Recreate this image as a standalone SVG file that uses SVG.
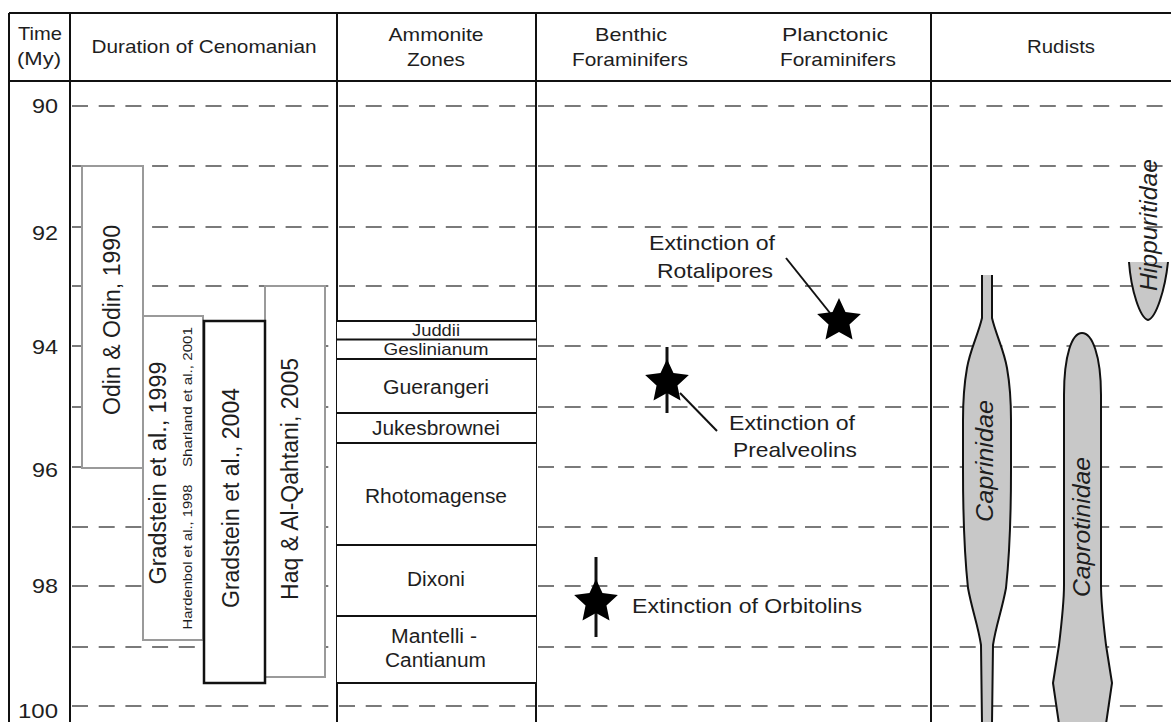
<svg xmlns="http://www.w3.org/2000/svg" xmlns:xlink="http://www.w3.org/1999/xlink" width="1171" height="722" viewBox="0 0 1171 722">
<style>
  text { font-family: "Liberation Sans", Arial, sans-serif; fill: #1e1e1e; }
  .hd { font-size: 19px; text-anchor: middle; }
  .num { font-size: 21px; text-anchor: end; }
  .zn { font-size: 19.5px; text-anchor: middle; }
  .lb { font-size: 21px; text-anchor: middle; }
  .rot { font-size: 23px; text-anchor: middle; }
  .small { font-size: 13px; text-anchor: middle; }
  .it { font-size: 24px; font-style: italic; text-anchor: middle; }
  .frame { stroke: #111; stroke-width: 2; fill: none; }
  .dash { stroke: #7a7a7a; stroke-width: 2; stroke-dasharray: 16 10.7; fill: none; }
  .gbox { fill: #fff; stroke: #9a9a9a; stroke-width: 2; }
  .kbox { fill: #fff; stroke: #111; stroke-width: 2.5; }
  .zline { stroke: #111; stroke-width: 2; }
  .rfill { fill: #c8c8c8; stroke: none; }
  .rline { fill: none; stroke: #111; stroke-width: 2; stroke-linejoin: round; }
  .conn { stroke: #111; stroke-width: 2; fill: none; }
  .bar { stroke: #111; stroke-width: 3; }
</style>
<defs>
  <path id="star" d="M0,-23 L6.47,-8.9 L21.87,-7.11 L10.46,3.4 L13.52,18.61 L0,11 L-13.52,18.61 L-10.46,3.4 L-21.87,-7.11 L-6.47,-8.9 Z" fill="#000"/>
</defs>
<rect x="0" y="0" width="1171" height="722" fill="#fff"/>

<g id="gridlines">
  <path class="dash" d="M72,106H337 M339,106H536 M538,106H931 M933,106H1171
  M72,166H337 M339,166H536 M538,166H931 M933,166H1171
  M72,227H337 M339,227H536 M538,227H931 M933,227H1171
  M72,286H337 M339,286H536 M538,286H931 M933,286H1171
  M72,346H337 M339,346H536 M538,346H931 M933,346H1171
  M72,407H337 M339,407H536 M538,407H931 M933,407H1171
  M72,467H337 M339,467H536 M538,467H931 M933,467H1171
  M72,527H337 M339,527H536 M538,527H931 M933,527H1171
  M72,586H337 M339,586H536 M538,586H931 M933,586H1171
  M72,647H337 M339,647H536 M538,647H931 M933,647H1171
  M72,706H337 M339,706H536 M538,706H931 M933,706H1171"/>
</g>

<g id="frame">
  <path class="frame" d="M9,13H1171 M9,81H1171 M9,13V722 M70,13V722 M337,13V722 M536,13V722 M931,13V722"/>
</g>

<g id="header">
  <text class="hd" x="40" y="40" textLength="44" lengthAdjust="spacingAndGlyphs">Time</text>
  <text class="hd" x="39" y="65" textLength="44" lengthAdjust="spacingAndGlyphs">(My)</text>
  <text class="hd" x="204" y="53" textLength="225" lengthAdjust="spacingAndGlyphs">Duration of Cenomanian</text>
  <text class="hd" x="436" y="41" textLength="95" lengthAdjust="spacingAndGlyphs">Ammonite</text>
  <text class="hd" x="436" y="66" textLength="58" lengthAdjust="spacingAndGlyphs">Zones</text>
  <text class="hd" x="631" y="41" textLength="72" lengthAdjust="spacingAndGlyphs">Benthic</text>
  <text class="hd" x="630" y="66" textLength="116" lengthAdjust="spacingAndGlyphs">Foraminifers</text>
  <text class="hd" x="835" y="41" textLength="106" lengthAdjust="spacingAndGlyphs">Planctonic</text>
  <text class="hd" x="838" y="66" textLength="116" lengthAdjust="spacingAndGlyphs">Foraminifers</text>
  <text class="hd" x="1061" y="53" textLength="68" lengthAdjust="spacingAndGlyphs">Rudists</text>
</g>

<g id="time-axis">
  <text class="num" x="58" y="113" textLength="26" lengthAdjust="spacingAndGlyphs">90</text>
  <text class="num" x="58" y="240" textLength="26" lengthAdjust="spacingAndGlyphs">92</text>
  <text class="num" x="58" y="354" textLength="26" lengthAdjust="spacingAndGlyphs">94</text>
  <text class="num" x="58" y="477" textLength="26" lengthAdjust="spacingAndGlyphs">96</text>
  <text class="num" x="58" y="593" textLength="26" lengthAdjust="spacingAndGlyphs">98</text>
  <text class="num" x="58" y="718" textLength="40" lengthAdjust="spacingAndGlyphs">100</text>
</g>

<g id="odin-1990">
  <rect class="gbox" x="82" y="166" width="61" height="302"/>
  <text class="rot" transform="translate(120,320) rotate(-90)" textLength="190" lengthAdjust="spacingAndGlyphs">Odin &amp; Odin, 1990</text>
</g>
<g id="gradstein-1999">
  <rect class="gbox" x="143" y="316" width="60" height="324"/>
  <text class="rot" transform="translate(166,473) rotate(-90)" textLength="223" lengthAdjust="spacingAndGlyphs">Gradstein et al., 1999</text>
  <text class="small" transform="translate(192,557) rotate(-90)" textLength="145" lengthAdjust="spacingAndGlyphs">Hardenbol et al., 1998</text>
  <text class="small" transform="translate(192,397) rotate(-90)" textLength="140" lengthAdjust="spacingAndGlyphs">Sharland et al., 2001</text>
</g>
<g id="haq-2005">
  <rect class="gbox" x="265" y="286" width="60" height="391"/>
  <text class="rot" transform="translate(298,479) rotate(-90)" textLength="242" lengthAdjust="spacingAndGlyphs">Haq &amp; Al-Qahtani, 2005</text>
</g>
<g id="gradstein-2004">
  <rect class="kbox" x="204" y="321" width="61" height="362"/>
  <text class="rot" transform="translate(239,498) rotate(-90)" textLength="220" lengthAdjust="spacingAndGlyphs">Gradstein et al., 2004</text>
</g>

<g id="ammonite-zones">
  <rect x="337" y="321" width="199" height="362" fill="#fff"/>
  <path class="zline" d="M337,321H536 M337,339.5H536 M337,359H536 M337,413H536 M337,443H536 M337,545H536 M337,616H536 M337,683H536"/>
  <text class="zn" style="font-size:17px" x="436" y="336" textLength="48" lengthAdjust="spacingAndGlyphs">Juddii</text>
  <text class="zn" style="font-size:17px" x="436" y="355" textLength="105" lengthAdjust="spacingAndGlyphs">Geslinianum</text>
  <text class="zn" x="436" y="394" textLength="106" lengthAdjust="spacingAndGlyphs">Guerangeri</text>
  <text class="zn" x="436" y="435" textLength="128" lengthAdjust="spacingAndGlyphs">Jukesbrownei</text>
  <text class="zn" x="436" y="503" textLength="142" lengthAdjust="spacingAndGlyphs">Rhotomagense</text>
  <text class="zn" x="436" y="586" textLength="58" lengthAdjust="spacingAndGlyphs">Dixoni</text>
  <text class="zn" x="434" y="643" textLength="86" lengthAdjust="spacingAndGlyphs">Mantelli -</text>
  <text class="zn" x="435.5" y="667" textLength="101" lengthAdjust="spacingAndGlyphs">Cantianum</text>
</g>

<g id="connectors">
  <line class="conn" x1="786" y1="258" x2="830" y2="313"/>
  <line class="conn" x1="680" y1="393" x2="717" y2="431"/>
</g>

<g id="rotalipores">
  <use xlink:href="#star" href="#star" transform="translate(839,321)"/>
  <text class="lb" x="712" y="250" textLength="126" lengthAdjust="spacingAndGlyphs">Extinction of</text>
  <text class="lb" x="715" y="278" textLength="116" lengthAdjust="spacingAndGlyphs">Rotalipores</text>
</g>
<g id="prealveolins">
  <line class="bar" x1="667" y1="347" x2="667" y2="413"/>
  <use xlink:href="#star" href="#star" transform="translate(667,382)"/>
  <text class="lb" x="792" y="430" textLength="126" lengthAdjust="spacingAndGlyphs">Extinction of</text>
  <text class="lb" x="795" y="457" textLength="124" lengthAdjust="spacingAndGlyphs">Prealveolins</text>
</g>
<g id="orbitolins">
  <line class="bar" x1="596" y1="557" x2="596" y2="637"/>
  <use xlink:href="#star" href="#star" transform="translate(596,602)"/>
  <text class="lb" x="747" y="613" textLength="230" lengthAdjust="spacingAndGlyphs">Extinction of Orbitolins</text>
</g>

<g id="caprinidae">
  <path class="rfill" d="M982,275 L992,275 L992,318 C996,335 1004,350 1007,368 C1010,385 1011,400 1011,420 L1011,470 C1011,520 1009,560 1006,588 C1002,610 996,625 993,645 L992,724 L982,724 L981,645 C978,625 972,610 968,588 C965,560 963,520 963,470 L963,420 C963,400 964,385 967,368 C970,350 978,335 982,318 Z"/>
  <path class="rline" d="M992,275 L992,318 C996,335 1004,350 1007,368 C1010,385 1011,400 1011,420 L1011,470 C1011,520 1009,560 1006,588 C1002,610 996,625 993,645 L992,724"/>
  <path class="rline" d="M982,275 L982,318 C978,335 970,350 967,368 C964,385 963,400 963,420 L963,470 C963,520 965,560 968,588 C972,610 978,625 981,645 L982,724"/>
  <text class="it" transform="translate(993,461) rotate(-90)" textLength="122" lengthAdjust="spacingAndGlyphs">Caprinidae</text>
</g>

<g id="caprotinidae">
  <path class="rfill" d="M1059,724 L1053,683 L1059,645 C1062,620 1064,600 1064,585 L1064,395 C1064,355 1072,333 1082,333 C1092,333 1101,355 1101,395 L1101,585 C1101,600 1103,620 1106,645 L1112,683 L1106,724 Z"/>
  <path class="rline" d="M1059,724 L1053,683 L1059,645 C1062,620 1064,600 1064,585 L1064,395 C1064,355 1072,333 1082,333 C1092,333 1101,355 1101,395 L1101,585 C1101,600 1103,620 1106,645 L1112,683 L1106,724"/>
  <text class="it" transform="translate(1090,527) rotate(-90)" textLength="140" lengthAdjust="spacingAndGlyphs">Caprotinidae</text>
</g>

<g id="hippuritidae">
  <path class="rfill" d="M1129,262 L1168,262 C1165,290 1156,318 1148,320 C1140,318 1131,290 1129,262 Z"/>
  <path class="rline" d="M1168,262 C1165,290 1156,318 1148,320 C1140,318 1131,290 1129,262"/>
  <text class="it" transform="translate(1157,225) rotate(-90)" textLength="132" lengthAdjust="spacingAndGlyphs">Hippuritidae</text>
</g>
</svg>
